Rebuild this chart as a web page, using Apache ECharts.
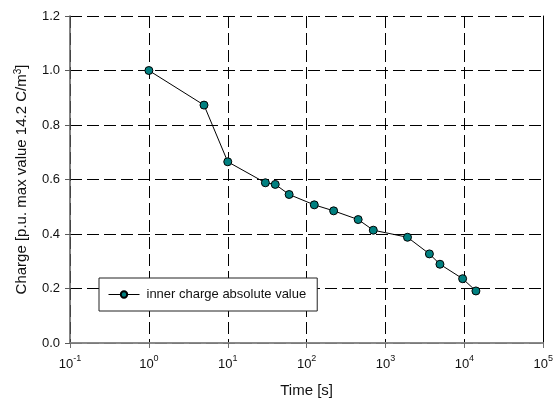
<!DOCTYPE html>
<html>
<head>
<meta charset="utf-8">
<script src="https://cdn.jsdelivr.net/npm/echarts@6/dist/echarts.min.js"></script>
<style>
  html, body { margin: 0; padding: 0; background: #fff; }
  #chart { width: 556px; height: 403px; }
</style>
</head>
<body>
<div id="chart"></div>
<script>
// Decay of the inner space charge, normalised to its maximum (14.2 C/m^3)
const timeSeconds = [1, 5, 10, 30, 40, 60, 125, 220, 450, 700, 1900, 3600, 4900, 9500, 14000];
const chargePU   = [1.0, 0.873, 0.665, 0.588, 0.582, 0.545, 0.507, 0.485, 0.453, 0.414, 0.388, 0.327, 0.289, 0.236, 0.191];
const seriesName = 'inner charge absolute value';

const xRange = [0.1, 100000];
const yRange = [0, 1.2];
const yStep = 0.2;

const font = 'Arial, "Liberation Sans", sans-serif';
const textColor = '#111';

const chart = echarts.init(document.getElementById('chart'), null, { renderer: 'canvas' });

const gridDash = { color: '#000', width: 1, type: [12, 5] };

chart.setOption({
  animation: false,
  backgroundColor: '#fff',
  textStyle: { fontFamily: font, color: textColor },
  grid: { left: 70, top: 16, right: 11, bottom: 55.5, containLabel: false },
  legend: {
    left: 99, top: 278,
    orient: 'horizontal',
    padding: [10, 11, 10, 9],
    itemWidth: 31, itemHeight: 8,
    backgroundColor: '#fff',
    borderColor: '#222', borderWidth: 1, borderRadius: 0,
    lineStyle: { width: 1 },
    textStyle: { fontFamily: font, fontSize: 13, color: textColor, padding: [0, 0, 0, 2] },
    data: [seriesName]
  },
  xAxis: [{
    type: 'log', logBase: 10,
    min: xRange[0], max: xRange[1],
    name: 'Time [s]',
    nameLocation: 'middle', nameGap: 40,
    nameTextStyle: { fontFamily: font, fontSize: 15, color: textColor },
    axisLine: { onZero: false, lineStyle: { color: '#6e6e6e', width: 1.5 } },
    axisTick: { show: true, length: 5, lineStyle: { color: '#6e6e6e', width: 1 } },
    axisLabel: {
      margin: 11,
      formatter: v => '{b|10}{s|' + Math.round(Math.log10(v)) + '}',
      rich: {
        b: { fontFamily: font, fontSize: 13, color: textColor, lineHeight: 17, verticalAlign: 'bottom' },
        s: { fontFamily: font, fontSize: 9, color: textColor, lineHeight: 17, verticalAlign: 'top' }
      }
    },
    splitLine: { show: true, lineStyle: gridDash },
    minorTick: { show: false }
  }, {
    type: 'log', logBase: 10, position: 'top',
    min: xRange[0], max: xRange[1],
    axisLine: { show: true, lineStyle: { color: '#888', width: 1.5 } },
    axisTick: { show: false }, axisLabel: { show: false }, splitLine: { show: false }
  }],
  yAxis: [{
    type: 'value',
    min: yRange[0], max: yRange[1], interval: yStep,
    name: 'Charge [p.u. max value 14.2 C/m{sup|3}]',
    nameLocation: 'middle', nameRotate: 90, nameGap: 39,
    nameTextStyle: {
      fontFamily: font, fontSize: 15, color: textColor,
      rich: { sup: { fontFamily: font, fontSize: 10, color: textColor, verticalAlign: 'top', lineHeight: 18 } }
    },
    axisLine: { show: true, lineStyle: { color: '#5a5a5a', width: 1.5 } },
    axisTick: { show: true, length: 5, lineStyle: { color: '#5a5a5a', width: 1 } },
    axisLabel: { margin: 10, fontFamily: font, fontSize: 13, color: textColor, formatter: v => v.toFixed(1) },
    splitLine: { show: true, lineStyle: gridDash }
  }, {
    type: 'value', position: 'right',
    min: yRange[0], max: yRange[1], interval: yStep,
    axisLine: { show: true, lineStyle: { color: '#000', width: 1 } },
    axisTick: { show: false }, axisLabel: { show: false }, splitLine: { show: false }
  }],
  series: [{
    name: seriesName,
    type: 'line',
    xAxisIndex: 0, yAxisIndex: 0,
    data: timeSeconds.map((t, i) => [t, chargePU[i]]),
    symbol: 'circle', symbolSize: 8,
    lineStyle: { color: '#000', width: 1 },
    itemStyle: { color: '#008080', borderColor: '#000', borderWidth: 1 },
    z: 5
  }]
});
</script>
</body>
</html>
